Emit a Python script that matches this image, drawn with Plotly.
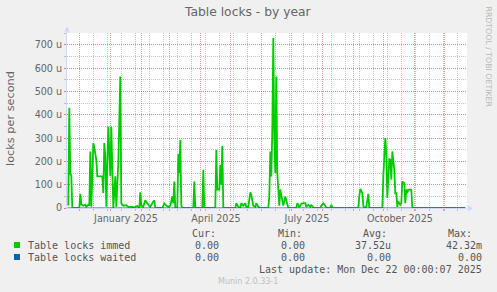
import plotly.graph_objects as go

# ---------------- data (values in micro-units, "u") ----------------
immed_dates = [
    "2024-11-19", "2024-11-20", "2024-11-21", "2024-11-22", "2024-11-23", "2024-11-24",
    "2024-12-01", "2024-12-02", "2024-12-03", "2024-12-05", "2024-12-07", "2024-12-08",
    "2024-12-10", "2024-12-11", "2024-12-12", "2024-12-13", "2024-12-14", "2024-12-15",
    "2024-12-16", "2024-12-18", "2024-12-19", "2024-12-21", "2024-12-24", "2024-12-25",
    "2024-12-26", "2024-12-27", "2024-12-28", "2024-12-30", "2025-01-01", "2025-01-02",
    "2025-01-04", "2025-01-06", "2025-01-07", "2025-01-09", "2025-01-11", "2025-01-12",
    "2025-01-14", "2025-01-17", "2025-01-19", "2025-01-22", "2025-01-25", "2025-01-28",
    "2025-01-30", "2025-01-31", "2025-02-01", "2025-02-03", "2025-02-05", "2025-02-07",
    "2025-02-10", "2025-02-12", "2025-02-14", "2025-02-15", "2025-02-22", "2025-02-24",
    "2025-02-26", "2025-02-28", "2025-03-02", "2025-03-04", "2025-03-05", "2025-03-06",
    "2025-03-07", "2025-03-09", "2025-03-10", "2025-03-11", "2025-03-12", "2025-03-13",
    "2025-03-14", "2025-03-25", "2025-03-26", "2025-03-27", "2025-04-03", "2025-04-04",
    "2025-04-05", "2025-04-16", "2025-04-17", "2025-04-18", "2025-04-20", "2025-04-21",
    "2025-04-22", "2025-04-23", "2025-04-24", "2025-05-06", "2025-05-07", "2025-05-09",
    "2025-05-11", "2025-05-12", "2025-05-14", "2025-05-16", "2025-05-17", "2025-05-19",
    "2025-05-21", "2025-05-22", "2025-05-24", "2025-05-26", "2025-05-27", "2025-05-29",
    "2025-05-31", "2025-06-08", "2025-06-09", "2025-06-10", "2025-06-11", "2025-06-12",
    "2025-06-13", "2025-06-14", "2025-06-15", "2025-06-16", "2025-06-17", "2025-06-18",
    "2025-06-19", "2025-06-20", "2025-06-21", "2025-06-23", "2025-06-25", "2025-06-26",
    "2025-06-28", "2025-07-06", "2025-07-07", "2025-07-09", "2025-07-11", "2025-07-13",
    "2025-07-15", "2025-07-16", "2025-07-18", "2025-07-20", "2025-07-21", "2025-07-23",
    "2025-07-30", "2025-07-31", "2025-08-02", "2025-08-04", "2025-08-05", "2025-08-09",
    "2025-08-10", "2025-08-11", "2025-09-06", "2025-09-07", "2025-09-08", "2025-09-10",
    "2025-09-11", "2025-09-12", "2025-09-14", "2025-09-16", "2025-09-17", "2025-09-30",
    "2025-10-01", "2025-10-03", "2025-10-04", "2025-10-05", "2025-10-06", "2025-10-07",
    "2025-10-08", "2025-10-09", "2025-10-10", "2025-10-12", "2025-10-13", "2025-10-14",
    "2025-10-15", "2025-10-16", "2025-10-18", "2025-10-19", "2025-10-20", "2025-10-22",
    "2025-10-23", "2025-10-24", "2025-10-25", "2025-10-26", "2025-10-28", "2025-10-29",
    "2025-10-30", "2025-12-22",
]
immed_values = [
    15, 15, 430, 145, 140, 0,
    0, 61, 15, 10, 14, 5,
    14, 10, 243, 5, 130, 279,
    260, 207, 136, 136, 136, 64,
    279, 222, 5, 350, 136, 350,
    0, 136, 5, 193, 565, 20,
    10, 12, 5, 5, 3, 8,
    0, 67, 10, 5, 33, 20,
    5, 20, 33, 0, 0, 20,
    10, 5, 10, 50, 20, 114,
    0, 0, 232, 150, 293, 10,
    0, 0, 114, 0, 0, 164,
    0, 0, 250, 79, 79, 186,
    100, 267, 0, 0, 21, 5,
    0, 21, 10, 21, 5, 5,
    67, 57, 10, 5, 21, 5,
    0, 0, 50, 243, 135, 336,
    730, 300, 150, 565, 150, 79,
    10, 79, 50, 10, 50, 28,
    0, 0, 21, 3, 18, 21,
    21, 5, 14, 5, 14, 0,
    0, 10, 21, 10, 0, 0,
    14, 0, 0, 50, 82, 64,
    10, 0, 5, 61, 0, 0,
    136, 300, 236, 43, 150, 210,
    208, 122, 243, 164, 64, 64,
    5, 28, 14, 21, 114, 107,
    21, 79, 64, 79, 79, 79,
    0, 0,
]
waited_dates = ["2024-11-19", "2025-12-22"]
waited_values = [0, 0]

y_tickvals = [0, 100, 200, 300, 400, 500, 600, 700]
y_ticktext = ["0", "100 u", "200 u", "300 u", "400 u", "500 u", "600 u", "700 u"]
x_label_dates = ["2025-01-16 16:00", "2025-04-16 16:00", "2025-07-16 16:00", "2025-10-17 16:00"]
x_label_text = ["January 2025", "April 2025", "July 2025", "October 2025"]

series_names = ["Table locks immed", "Table locks waited"]
series_colors = ["#00cc00", "#0066b3"]
col_headers = ["Cur:", "Min:", "Avg:", "Max:"]
col_values = [
    ["0.00", "0.00", "37.52u", "42.32m"],
    ["0.00", "0.00", "0.00", "0.00"],
]
title_text = "Table locks - by year"
ylabel_text = "locks per second"
last_update = "Last update: Mon Dec 22 00:00:07 2025"
footer_text = "Munin 2.0.33-1"
side_text = "RRDTOOL / TOBI OETIKER"

# ---------------- layout geometry ----------------
W, H = 497, 292
L, R, T, B = 67, 467, 33, 208
PW, PH = R - L, B - T


def px(X):
    return (X - L) / PW


def py(Y):
    return (B - Y) / PH


x_range = ["2024-11-18 16:48", "2025-12-23 16:48"]
y_range = [0, 751.4]

GRID = "rgba(150,150,150,0.55)"
MGRID = "rgba(230,90,90,0.6)"
AXIS = "#CFD6F8"
FONT = "#666666"
SANS = "DejaVu Sans"
MONO = "DejaVu Sans Mono"

fig = go.Figure()
fig.add_trace(go.Scatter(x=immed_dates, y=immed_values, mode="lines",
                         line=dict(color=series_colors[0], width=1.8),
                         name=series_names[0], xaxis="x", yaxis="y", hoverinfo="skip"))
fig.add_trace(go.Scatter(x=waited_dates, y=waited_values, mode="lines",
                         line=dict(color=series_colors[1], width=1),
                         name=series_names[1], xaxis="x2", yaxis="y", hoverinfo="skip"))

fig.update_layout(
    width=W, height=H,
    margin=dict(l=L, r=W - R, t=T, b=H - B, pad=0),
    paper_bgcolor="#f0f0f0", plot_bgcolor="#ffffff",
    showlegend=False,
    xaxis=dict(
        type="date", range=x_range, showgrid=True, gridcolor=MGRID, griddash="1px,1px",
        gridwidth=1, dtick="M1", tick0="2024-12-01", showticklabels=False,
        ticks="outside", ticklen=2, tickcolor=MGRID, showline=True, linecolor=AXIS,
        linewidth=1, zeroline=False,
        minor=dict(dtick=14 * 86400000, tick0="2024-12-15", showgrid=True,
                   gridcolor=GRID, griddash="1px,1px", gridwidth=1,
                   ticks="outside", ticklen=2, tickcolor=GRID),
    ),
    xaxis2=dict(
        type="date", range=x_range, overlaying="x", anchor="y", side="bottom",
        tickmode="array", tickvals=x_label_dates, ticktext=x_label_text,
        showgrid=False, ticks="", showline=False, zeroline=False,
        ticklabelstandoff=3,
        tickfont=dict(family=SANS, size=9.6, color=FONT),
    ),
    yaxis=dict(
        range=y_range, tickmode="array", tickvals=y_tickvals, ticktext=y_ticktext,
        showgrid=True, gridcolor=MGRID, griddash="1px,1px", gridwidth=1,
        ticks="outside", ticklen=2, tickcolor=MGRID,
        showline=True, linecolor=AXIS, linewidth=1, zeroline=False,
        tickfont=dict(family=SANS, size=9.6, color=FONT),
        minor=dict(dtick=50, tick0=0, showgrid=True, gridcolor=GRID,
                   griddash="1px,1px", gridwidth=1, ticks="outside", ticklen=2,
                   tickcolor=GRID),
    ),
)

ann = []
ann.append(dict(text=title_text, x=px(248), y=py(12.5), xref="paper", yref="paper",
                xanchor="center", yanchor="middle", showarrow=False,
                font=dict(family=SANS, size=12.3, color=FONT)))
ann.append(dict(text=ylabel_text, x=px(10), y=py(119), xref="paper", yref="paper",
                xanchor="center", yanchor="middle", showarrow=False, textangle=-90,
                font=dict(family=SANS, size=11.3, color=FONT)))
ann.append(dict(text=side_text, x=px(488), y=py(56.5), xref="paper", yref="paper",
                xanchor="center", yanchor="middle", showarrow=False, textangle=90,
                font=dict(family=SANS, size=7.8, color="#b8b8b8")))
ann.append(dict(text=footer_text, x=px(248), y=py(281), xref="paper", yref="paper",
                xanchor="center", yanchor="middle", showarrow=False,
                font=dict(family=SANS, size=8, color="#c0c0c0")))

mono = dict(family=MONO, size=10, color="#555555")
header_x = [190.7, 276.7, 361.7, 447.3]
value_right = [220, 306, 391.7, 483.3]
for hx, h in zip(header_x, col_headers):
    ann.append(dict(text=h, x=px(hx), y=py(233.7), xref="paper", yref="paper",
                    xanchor="left", yanchor="middle", showarrow=False, borderpad=0,
                    font=mono))
row_y = [245.3, 257.3]
for ry, name, vals in zip(row_y, series_names, col_values):
    ann.append(dict(text=name, x=px(27), y=py(ry), xref="paper", yref="paper",
                    xanchor="left", yanchor="middle", showarrow=False, borderpad=0,
                    font=mono))
    for vx, v in zip(value_right, vals):
        ann.append(dict(text=v, x=px(vx), y=py(ry), xref="paper", yref="paper",
                        xanchor="right", yanchor="middle", showarrow=False, borderpad=0,
                        font=mono))
ann.append(dict(text=last_update, x=px(483.3), y=py(269.7),
                xref="paper", yref="paper", xanchor="right", yanchor="middle",
                showarrow=False, borderpad=0, font=mono))
fig.update_layout(annotations=ann)

shapes = []
# axis arrows
shapes.append(dict(type="path", xref="paper", yref="paper",
                   path=f"M {px(64.3)},{py(31.5)} L {px(69.7)},{py(31.5)} L {px(67)},{py(26.5)} Z",
                   fillcolor=AXIS, line=dict(width=0)))
shapes.append(dict(type="line", xref="paper", yref="paper",
                   x0=px(67), x1=px(67), y0=py(33), y1=py(31),
                   line=dict(color=AXIS, width=1)))
shapes.append(dict(type="path", xref="paper", yref="paper",
                   path=f"M {px(468)},{py(205.3)} L {px(468)},{py(211.3)} L {px(473)},{py(208.3)} Z",
                   fillcolor=AXIS, line=dict(width=0)))
# legend colour boxes
for ry, c in zip(row_y, series_colors):
    shapes.append(dict(type="rect", xref="paper", yref="paper",
                       x0=px(14), x1=px(20), y0=py(ry - 3.3), y1=py(ry + 2.7),
                       fillcolor=c, line=dict(width=0)))
fig.update_layout(shapes=shapes)

fig.write_html("out.html")
